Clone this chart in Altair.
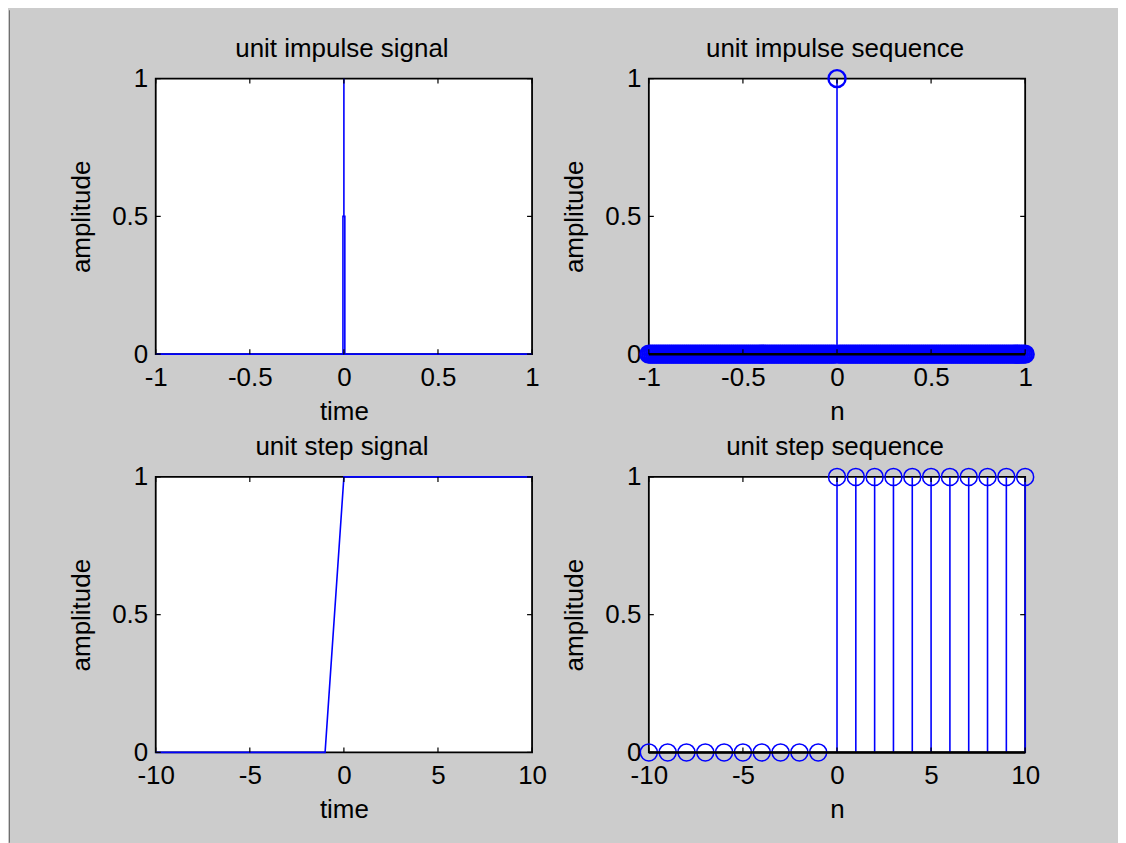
import altair as alt
import pandas as pd

FONT = "Liberation Sans"
FS = 26
BLUE = "#0000ff"
BG = "#cccccc"
W, H = 377, 276
TICK = 5

# ---------------- data ----------------
titles = ["unit impulse signal", "unit impulse sequence", "unit step signal", "unit step sequence"]
xtitles = ["time", "n", "time", "n"]
ytitle = "amplitude"

xticks_small = [-1, -0.5, 0, 0.5, 1]
xticks_big = [-10, -5, 0, 5, 10]
yticks = [0, 0.5, 1]

# unit impulse signal (continuous plot)
sig_t = [-1, -0.005, -0.005, 0, 0, 0, 0.005, 0.005, 1]
sig_amp = [0, 0, 0.5, 0.5, 1, 0.5, 0.5, 0, 0]

# unit impulse sequence (stem, n = -1:0.01:1)
imp_step = 0.01
imp_n = [round(-1 + i * imp_step, 2) for i in range(201)]
imp_amp = [0] * 100 + [1] + [0] * 100

# unit step signal
step_t = list(range(-10, 11))
step_amp = [0] * 10 + [1] * 11

# unit step sequence
seq_n = list(range(-10, 11))
seq_amp = [0] * 10 + [1] * 11


def axis_x(values, title):
    return alt.Axis(values=values, title=title, labelExpr="'' + datum.value",
                    ticks=False, tickSize=0, domain=False, grid=False,
                    labelPadding=10, labelFlush=False, labelOverlap=False, labelBound=False,
                    labelFont=FONT, labelFontSize=FS, labelColor="black",
                    titleFont=FONT, titleFontSize=FS, titleFontWeight="normal",
                    titleColor="black", titleY=65, titleBaseline="alphabetic")


def axis_y():
    return alt.Axis(values=yticks, title=ytitle, labelExpr="'' + datum.value",
                    ticks=False, tickSize=0, domain=False, grid=False,
                    labelPadding=8, labelFlush=False, labelOverlap=False, labelBound=False,
                    labelFont=FONT, labelFontSize=FS, labelColor="black",
                    titleFont=FONT, titleFontSize=FS, titleFontWeight="normal",
                    titleColor="black", titleX=-74, titleBaseline="middle")


def panel(idx, xdom, xt, main_layers_fn, col, row):
    xs = alt.Scale(domain=xdom, nice=False, zero=False)
    ys = alt.Scale(domain=[0, 1], nice=False, zero=False)
    ax = axis_x(xt, xtitles[idx])
    ay = axis_y()
    X = lambda f: alt.X(f"{f}:Q", scale=xs, axis=ax)
    Y = lambda f: alt.Y(f"{f}:Q", scale=ys, axis=ay)

    layers = main_layers_fn(X, Y)

    # inward tick marks on all four sides
    dxt = pd.DataFrame({"v": xt})
    dyt = pd.DataFrame({"v": yticks})
    tk = dict(color="black", strokeWidth=1.2)
    layers += [
        alt.Chart(dxt).mark_rule(**tk).encode(x=X("v"), y=alt.value(0), y2=alt.value(TICK)),
        alt.Chart(dxt).mark_rule(**tk).encode(x=X("v"), y=alt.value(H), y2=alt.value(H - TICK)),
        alt.Chart(dyt).mark_rule(**tk).encode(y=Y("v"), x=alt.value(0), x2=alt.value(TICK)),
        alt.Chart(dyt).mark_rule(**tk).encode(y=Y("v"), x=alt.value(W), x2=alt.value(W - TICK)),
    ]
    # title as text
    layers.append(
        alt.Chart(pd.DataFrame({"t": [titles[idx]]})).mark_text(
            font=FONT, fontSize=FS, baseline="alphabetic", align="center", color="black"
        ).encode(x=alt.value(W / 2 - 2), y=alt.value(-22), text="t:N")
    )
    one = pd.DataFrame({"k": [0]})
    if col == 0:
        # window border line on the left, also fixes the outer extent
        top = -68.5 if row == 0 else 0
        bot = H + 123 if row == 0 else H + 90.5
        layers.append(alt.Chart(one).mark_rule(color="#6e6e6e", strokeWidth=1).encode(
            x=alt.value(-146.5), y=alt.value(top), y2=alt.value(bot)))
    else:
        layers.append(alt.Chart(one).mark_rule(color=BG, strokeWidth=1).encode(
            x=alt.value(W + 91.5), y=alt.value(0), y2=alt.value(1)))
    return alt.layer(*layers).properties(width=W, height=H)


def p1_layers(X, Y):
    df = pd.DataFrame({"t": sig_t, "a": sig_amp, "o": list(range(len(sig_t)))})
    return [alt.Chart(df).mark_line(color=BLUE, strokeWidth=1.6).encode(
        x=X("t"), y=Y("a"), order="o:Q")]


def stem_layers(nvals, avals, xdom, circ_w):
    def fn(X, Y):
        df = pd.DataFrame({"n": nvals, "a": avals, "z": [0] * len(nvals)})
        base = pd.DataFrame({"x0": [xdom[0]], "x1": [xdom[1]], "z": [0]})
        return [
            alt.Chart(df).mark_rule(color=BLUE, strokeWidth=1.6).encode(
                x=X("n"), y=Y("a"), y2="z:Q"),
            alt.Chart(df).mark_point(shape="circle", filled=False, color=BLUE, size=290,
                                     strokeWidth=circ_w, opacity=1).encode(x=X("n"), y=Y("a")),
            alt.Chart(base).mark_rule(color="black", strokeWidth=2.5).encode(
                x=X("x0"), x2="x1:Q", y=Y("z")),
        ]
    return fn


def p3_layers(X, Y):
    df = pd.DataFrame({"t": step_t, "a": step_amp})
    return [alt.Chart(df).mark_line(color=BLUE, strokeWidth=1.6).encode(x=X("t"), y=Y("a"))]


p1 = panel(0, [-1, 1], xticks_small, p1_layers, 0, 0)
p2 = panel(1, [-1, 1], xticks_small, stem_layers(imp_n, imp_amp, [-1, 1], 2.4), 1, 0)
p3 = panel(2, [-10, 10], xticks_big, p3_layers, 0, 1)
p4 = panel(3, [-10, 10], xticks_big, stem_layers(seq_n, seq_amp, [-10, 10], 1.5), 1, 1)

chart = alt.concat(p1, p2, p3, p4, columns=2, spacing={"row": 123, "column": 117},
                   bounds="flush").properties(
    padding=0, background=BG
).configure_view(fill="white", stroke="black", strokeWidth=1.8)

chart.save("out.html", embed_options={"renderer": "svg", "actions": False})
